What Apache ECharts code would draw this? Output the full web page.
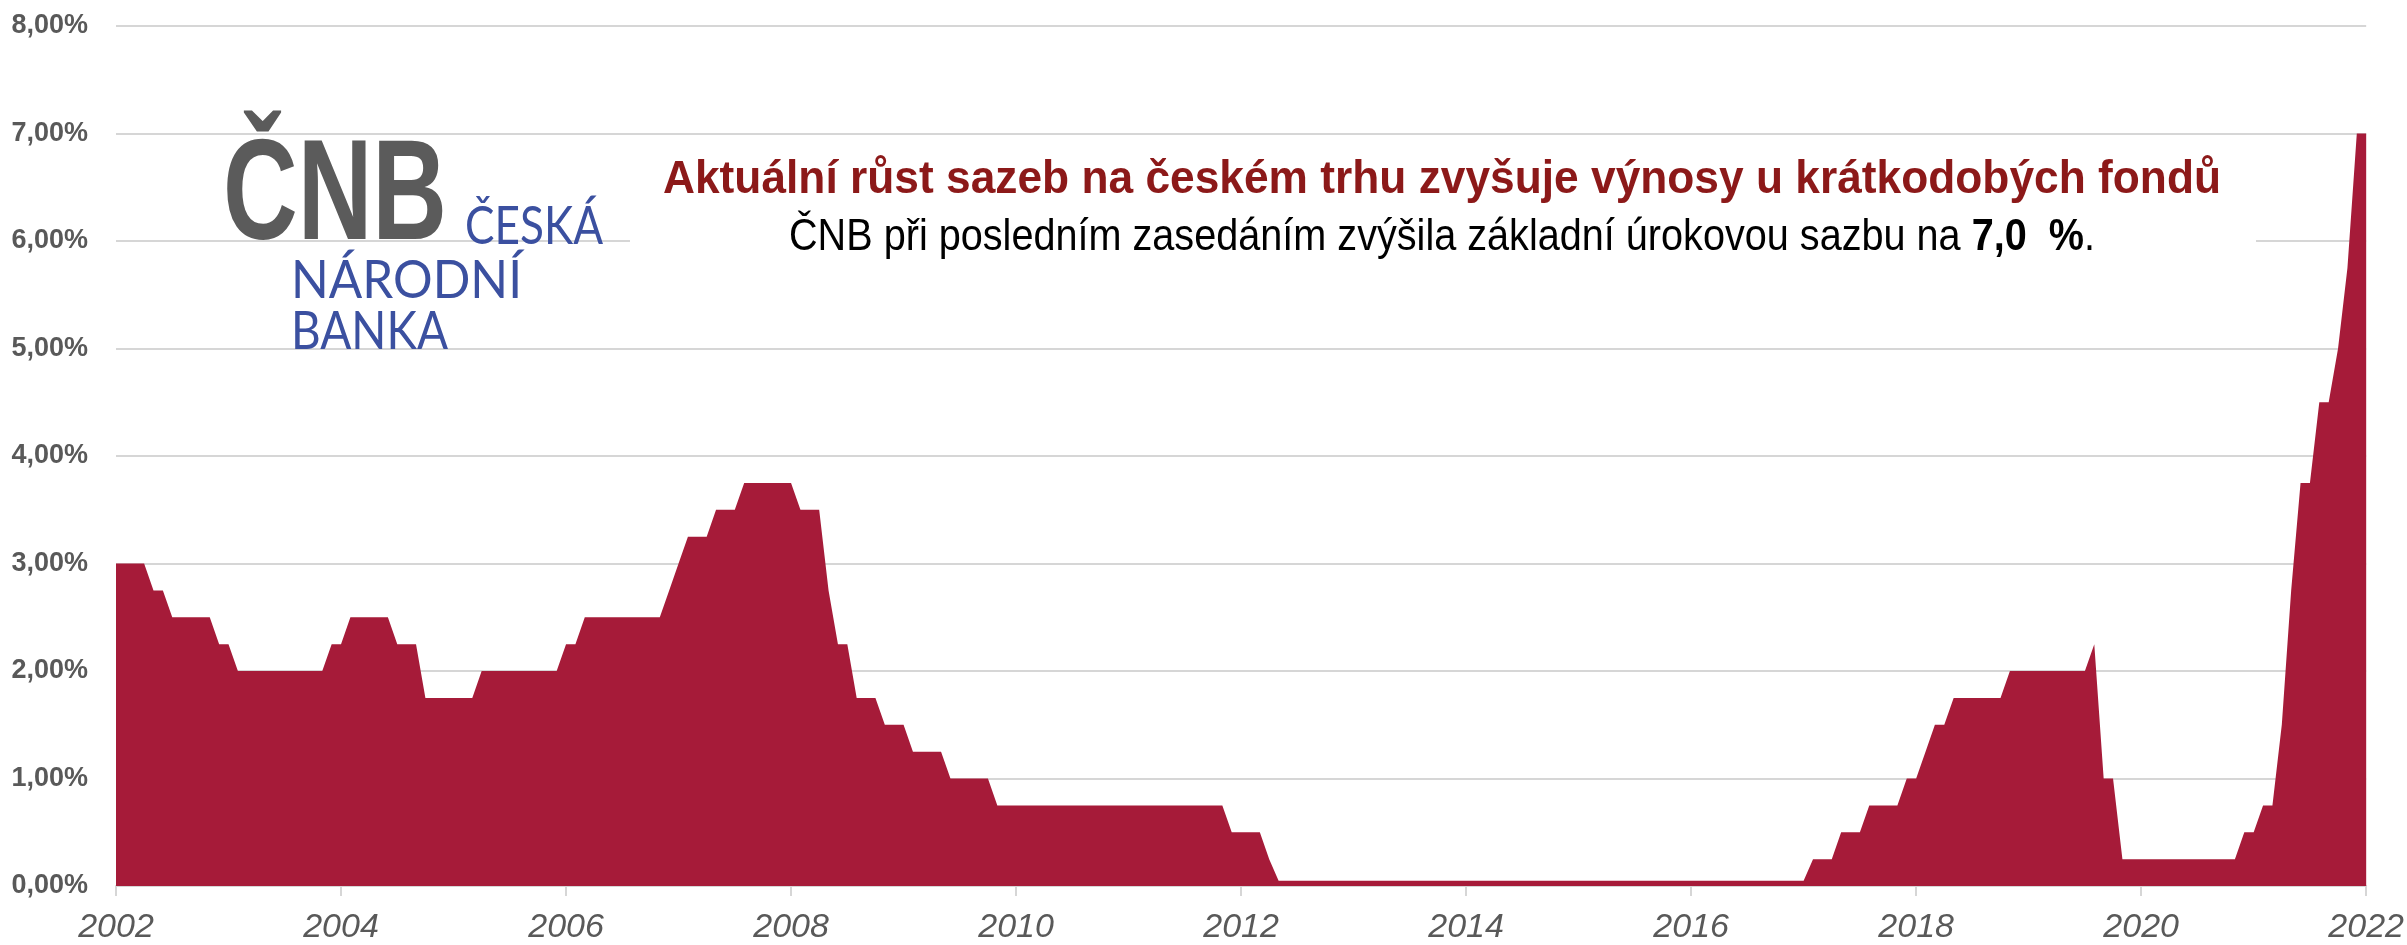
<!DOCTYPE html>
<html>
<head>
<meta charset="utf-8">
<title>Sazby ČNB</title>
<script src="https://cdn.jsdelivr.net/npm/echarts@6/dist/echarts.min.js"></script>
<style>
  html, body { margin: 0; padding: 0; background: #fff; }
  #chart { width: 2407px; height: 945px; }
</style>
</head>
<body>
<div id="chart"></div>
<script>
// měsíční hodnoty od ledna 2002 do ledna 2022 (v %)
const startYear = 2002
const endYear = 2022
const rates = [
  3.00, 3.00, 3.00, 3.00, 2.75, 2.75, 2.50, 2.50, 2.50, 2.50, 2.50, 2.25, // 2002
  2.25, 2.00, 2.00, 2.00, 2.00, 2.00, 2.00, 2.00, 2.00, 2.00, 2.00, 2.25, // 2003
  2.25, 2.50, 2.50, 2.50, 2.50, 2.50, 2.25, 2.25, 2.25, 1.75, 1.75, 1.75, // 2004
  1.75, 1.75, 1.75, 2.00, 2.00, 2.00, 2.00, 2.00, 2.00, 2.00, 2.00, 2.00, // 2005
  2.25, 2.25, 2.50, 2.50, 2.50, 2.50, 2.50, 2.50, 2.50, 2.50, 2.50, 2.75, // 2006
  3.00, 3.25, 3.25, 3.25, 3.50, 3.50, 3.50, 3.75, 3.75, 3.75, 3.75, 3.75, // 2007
  3.75, 3.50, 3.50, 3.50, 2.75, 2.25, 2.25, 1.75, 1.75, 1.75, 1.50, 1.50, // 2008
  1.50, 1.25, 1.25, 1.25, 1.25, 1.00, 1.00, 1.00, 1.00, 1.00, 0.75, 0.75, // 2009
  0.75, 0.75, 0.75, 0.75, 0.75, 0.75, 0.75, 0.75, 0.75, 0.75, 0.75, 0.75, // 2010
  0.75, 0.75, 0.75, 0.75, 0.75, 0.75, 0.75, 0.75, 0.75, 0.75, 0.75, 0.50, // 2011
  0.50, 0.50, 0.50, 0.25, 0.05, 0.05, 0.05, 0.05, 0.05, 0.05, 0.05, 0.05, // 2012
  0.05, 0.05, 0.05, 0.05, 0.05, 0.05, 0.05, 0.05, 0.05, 0.05, 0.05, 0.05, // 2013
  0.05, 0.05, 0.05, 0.05, 0.05, 0.05, 0.05, 0.05, 0.05, 0.05, 0.05, 0.05, // 2014
  0.05, 0.05, 0.05, 0.05, 0.05, 0.05, 0.05, 0.05, 0.05, 0.05, 0.05, 0.05, // 2015
  0.05, 0.05, 0.05, 0.05, 0.05, 0.05, 0.05, 0.05, 0.05, 0.05, 0.05, 0.05, // 2016
  0.05, 0.25, 0.25, 0.25, 0.50, 0.50, 0.50, 0.75, 0.75, 0.75, 0.75, 1.00, // 2017
  1.00, 1.25, 1.50, 1.50, 1.75, 1.75, 1.75, 1.75, 1.75, 1.75, 2.00, 2.00, // 2018
  2.00, 2.00, 2.00, 2.00, 2.00, 2.00, 2.00, 2.25, 1.00, 1.00, 0.25, 0.25, // 2019
  0.25, 0.25, 0.25, 0.25, 0.25, 0.25, 0.25, 0.25, 0.25, 0.25, 0.25, 0.50, // 2020
  0.50, 0.75, 0.75, 1.50, 2.75, 3.75, 3.75, 4.50, 4.50, 5.00, 5.75, 7.00, // 2021
  7.00 // 2022
]

const titleText = 'Aktuální růst sazeb na českém trhu zvyšuje výnosy u krátkodobých fondů'
const subtitleText = 'ČNB při posledním zasedáním zvýšila základní úrokovou sazbu na '
const subtitleRate = '7,0  %'
const subtitleEnd = '.'
const logoLetters = 'ČNB'
const logoLines = ['ČESKÁ', 'NÁRODNÍ', 'BANKA']

const NARROW = '"Liberation Sans Narrow", "Arial Narrow", "Liberation Sans", Arial, sans-serif'
const SANS = '"Liberation Sans", Arial, sans-serif'
const LOGO = 'Lato, "Liberation Sans", sans-serif'

// šířka textu kvůli zúžení na šířku z předlohy
const measureCtx = document.createElement('canvas').getContext('2d')
function textWidth(text, weight, size, family) {
  measureCtx.font = weight + ' ' + size + 'px ' + family
  return measureCtx.measureText(text).width
}
function fitText(opts) {
  const w = textWidth(opts.text, opts.weight, opts.size, opts.family)
  return {
    type: 'text',
    z: 60,
    x: opts.x,
    y: opts.y,
    scaleX: opts.width / w,
    style: {
      text: opts.text,
      fontSize: opts.size,
      fontWeight: opts.weight,
      fontFamily: opts.family,
      fill: opts.color,
      align: opts.align,
      verticalAlign: 'middle'
    }
  }
}

const seriesData = rates.map((v, i) => [startYear + i / 12, v])

const chartDom = echarts.init(document.getElementById('chart'))

const subW = textWidth(subtitleText, 'normal', 44, NARROW) +
  textWidth(subtitleRate, 'bold', 44, NARROW) +
  textWidth(subtitleEnd, 'normal', 44, NARROW)

const option = {
  animation: false,
  backgroundColor: '#ffffff',
  grid: { left: 116, right: 39, top: 26, bottom: 59, containLabel: false },
  xAxis: {
    type: 'value',
    min: startYear,
    max: endYear,
    interval: 2,
    splitLine: { show: false },
    axisLine: { show: true, lineStyle: { color: '#d6d6d6', width: 2 } },
    axisTick: { show: true, length: 10, lineStyle: { color: '#d6d6d6', width: 2 } },
    axisLabel: {
      margin: 25,
      fontSize: 34,
      fontStyle: 'italic',
      fontFamily: NARROW,
      color: '#595959',
      formatter: (v) => String(v)
    }
  },
  yAxis: {
    type: 'value',
    min: 0,
    max: 8,
    interval: 1,
    axisLine: { show: false },
    axisTick: { show: false },
    splitLine: { lineStyle: { color: '#d6d6d6', width: 2 } },
    axisLabel: {
      margin: 28,
      fontSize: 27,
      fontWeight: 'bold',
      fontFamily: SANS,
      color: '#595959',
      formatter: (v) => v.toFixed(2).replace('.', ',') + '%'
    }
  },
  series: [
    {
      type: 'line',
      data: seriesData,
      showSymbol: false,
      symbol: 'none',
      lineStyle: { width: 0, opacity: 0 },
      areaStyle: { color: '#a61b39', opacity: 1 },
      z: 2
    }
  ],
  graphic: [
    // bílé pozadí pod nadpisem (skrývá linku 6 %)
    { type: 'rect', z: 50, shape: { x: 630, y: 150, width: 1626, height: 140 }, style: { fill: '#ffffff' } },
    fitText({ text: logoLetters, x: 223, y: 200, width: 224, size: 142, weight: 'bold', family: SANS, color: '#5b5b5b', align: 'left' }),
    fitText({ text: logoLines[0], x: 465, y: 227, width: 138, size: 52, weight: 'normal', family: LOGO, color: '#3b50a0', align: 'left' }),
    fitText({ text: logoLines[1], x: 291, y: 281, width: 231, size: 52, weight: 'normal', family: LOGO, color: '#3b50a0', align: 'left' }),
    fitText({ text: logoLines[2], x: 291, y: 332, width: 157, size: 52, weight: 'normal', family: LOGO, color: '#3b50a0', align: 'left' }),
    fitText({ text: titleText, x: 1442, y: 180, width: 1558, size: 47, weight: 'bold', family: NARROW, color: '#8c1919', align: 'center' }),
    {
      type: 'text',
      z: 60,
      x: 1442,
      y: 238,
      scaleX: 1306 / subW,
      style: {
        text: '{r|' + subtitleText + '}{b|' + subtitleRate + '}{r|' + subtitleEnd + '}',
        align: 'center',
        verticalAlign: 'middle',
        rich: {
          r: { fontSize: 44, fontFamily: NARROW, fontWeight: 'normal', fill: '#000000', color: '#000000' },
          b: { fontSize: 44, fontFamily: NARROW, fontWeight: 'bold', fill: '#000000', color: '#000000' }
        }
      }
    }
  ]
}

chartDom.setOption(option)
</script>
</body>
</html>
